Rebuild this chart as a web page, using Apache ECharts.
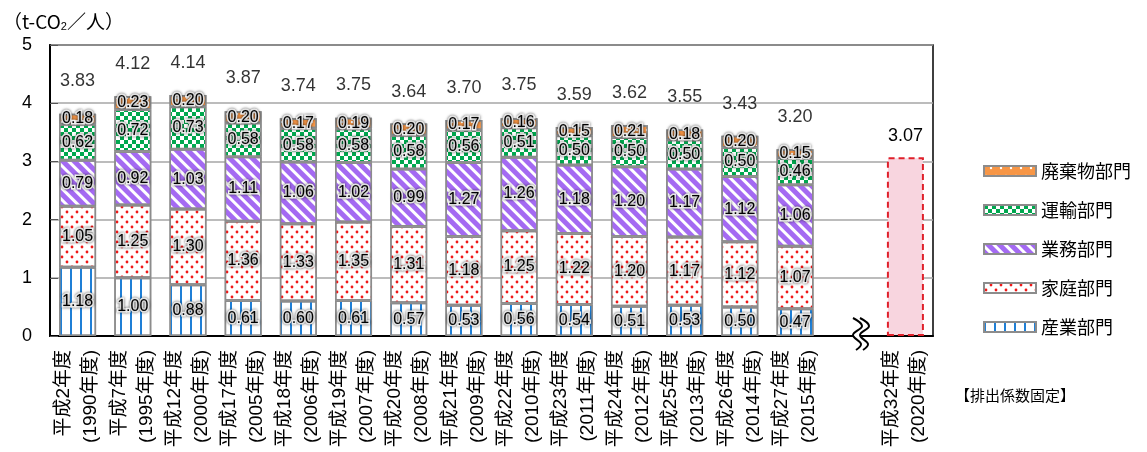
<!DOCTYPE html>
<html>
<head>
<meta charset="utf-8">
<script src="https://cdn.jsdelivr.net/npm/echarts@6/dist/echarts.min.js"></script>
<style>
html,body{margin:0;padding:0;background:#fff;}
#chart{width:1147px;height:452px;}
</style>
</head>
<body>
<div id="chart"></div>
<script>
// ---- data ----
const eraLabels = ['平成2年度','平成7年度','平成12年度','平成17年度','平成18年度','平成19年度','平成20年度','平成21年度','平成22年度','平成23年度','平成24年度','平成25年度','平成26年度','平成27年度','','平成32年度'];
const yearLabels = ['(1990年度)','(1995年度)','(2000年度)','(2005年度)','(2006年度)','(2007年度)','(2008年度)','(2009年度)','(2010年度)','(2011年度)','(2012年度)','(2013年度)','(2014年度)','(2015年度)','','(2020年度)'];
const industry  = [1.18,1.00,0.88,0.61,0.60,0.61,0.57,0.53,0.56,0.54,0.51,0.53,0.50,0.47];
const household = [1.05,1.25,1.30,1.36,1.33,1.35,1.31,1.18,1.25,1.22,1.20,1.17,1.12,1.07];
const business  = [0.79,0.92,1.03,1.11,1.06,1.02,0.99,1.27,1.26,1.18,1.20,1.17,1.12,1.06];
const transport = [0.62,0.72,0.73,0.58,0.58,0.58,0.58,0.56,0.51,0.50,0.50,0.50,0.50,0.46];
const waste     = [0.18,0.23,0.20,0.20,0.17,0.19,0.20,0.17,0.16,0.15,0.21,0.18,0.20,0.15];
const totals    = [3.83,4.12,4.14,3.87,3.74,3.75,3.64,3.70,3.75,3.59,3.62,3.55,3.43,3.20];
const target2020 = 3.07;
const seriesNames = ['産業部門','家庭部門','業務部門','運輸部門','廃棄物部門'];
const yTicks = [0,1,2,3,4,5];

// ---- helpers ----
const nCat = eraLabels.length;
function pad(arr){ const out = arr.slice(); while(out.length < nCat) out.push('-'); return out; }
const FONT = '"Liberation Sans","Noto Sans CJK JP",sans-serif';
const CJK = '"Noto Sans CJK JP",sans-serif';
const segLabel = {
  show:true, position:'inside', color:'#000', fontSize:16, fontFamily:FONT,
  textBorderColor:'#fff', textBorderWidth:3,
  textShadowColor:'rgba(0,0,0,0.6)', textShadowBlur:3,
  formatter: p => Number(p.value).toFixed(2)
};
const BORDER = '#8c8c8c';
function barSeries(name, data, color, decal){
  return {
    name, type:'bar', stack:'all', barWidth:37, data:pad(data),
    itemStyle:{ color, borderColor:BORDER, borderWidth:1.5, decal },
    label: segLabel, emphasis:{disabled:true}
  };
}
const series = [
  barSeries(seriesNames[0], industry, '#ffffff',
    {symbol:'rect', symbolSize:1, color:'#1f7fd6', dashArrayX:[2,8], dashArrayY:[10,0]}),
  barSeries(seriesNames[1], household, '#ffffff',
    {symbol:'circle', symbolSize:0.7, color:'#f01818', dashArrayX:[[4,6],[0,5,4,1]], dashArrayY:[4,1]}),
  barSeries(seriesNames[2], business, '#ffffff',
    {symbol:'rect', symbolSize:1, color:'#a46af2', dashArrayX:[4.5,3], dashArrayY:[10,0], rotation:-Math.PI/4}),
  barSeries(seriesNames[3], transport, '#00a84f',
    {symbol:'rect', symbolSize:1, color:'#ffffff', dashArrayX:[[4,4],[0,4,4,0]], dashArrayY:[4,0]}),
  barSeries(seriesNames[4], waste, '#f79646',
    {symbol:'circle', symbolSize:0.6, color:'#ffffff', dashArrayX:[[4,6],[0,5,4,1]], dashArrayY:[4,4]}),
  {
    name:'2020', type:'bar', stack:'all', barWidth:37,
    data: eraLabels.map((c,i)=> i===nCat-1 ? target2020 : '-'),
    itemStyle:{ color:'#f8d5df', borderColor:'#e0202a', borderWidth:2, borderType:[6,4] },
    label:{ show:true, position:'top', distance:12, color:'#000', fontSize:18, fontFamily:FONT },
    emphasis:{disabled:true}
  },
  {
    name:'total', type:'scatter', symbolSize:1, itemStyle:{color:'rgba(0,0,0,0)'},
    data: pad(totals),
    label:{ show:true, position:'top', distance:23, color:'#000', fontSize:18, fontFamily:FONT,
      formatter: p => Number(p.value).toFixed(2) },
    emphasis:{disabled:true}, z:5
  }
];

const chart = echarts.init(document.getElementById('chart'), null, {renderer:'canvas'});
chart.setOption({
  animation:false,
  backgroundColor:'#fff',
  title:{
    text:'（t-CO{sub|2}／人）', left:-2, top:6,
    textStyle:{ fontSize:19, fontWeight:'normal', color:'#000', fontFamily:CJK,
      rich:{ sub:{ fontSize:11, verticalAlign:'bottom', padding:[10,0,0,0], fontFamily:FONT } } }
  },
  legend:{
    orient:'vertical', left:978, top:157, itemWidth:52, itemHeight:10, itemGap:21,
    icon:'rect', data:['廃棄物部門','運輸部門','業務部門','家庭部門','産業部門'],
    textStyle:{ fontSize:18, color:'#000', fontFamily:CJK, lineHeight:18 }
  },
  grid:{ left:50, right:214, top:45, bottom:116, show:true, borderColor:'#000', borderWidth:1.5, containLabel:false },
  xAxis:{
    type:'category', data:eraLabels,
    axisLine:{ lineStyle:{ color:'#000', width:2 } },
    axisTick:{ show:false },
    axisLabel:{ interval:0, rotate:90, margin:14, fontSize:19, lineHeight:27, color:'#000', fontFamily:FONT,
      formatter:(v,i)=> v ? v + '\n' + yearLabels[i] : '' }
  },
  yAxis:{
    type:'value', min:yTicks[0], max:yTicks[yTicks.length-1], interval:1,
    axisLine:{ show:true, lineStyle:{ color:'#000', width:2 } },
    axisTick:{ show:true, inside:true, length:8, lineStyle:{ color:'#555' } },
    axisLabel:{ fontSize:18, color:'#000', margin:18, fontFamily:FONT },
    splitLine:{ lineStyle:{ color:'#a6a6a6', width:1.5 } }
  },
  series,
  graphic:[
    { type:'polygon', z:100, shape:{ points:[[853,318],[862,326],[853,335],[861,344],[856,350],[863,350],[868,344],[860,335],[869,326],[860,318]] },
      style:{ fill:'#fff' } },
    { type:'polyline', z:101, shape:{ points:[[853,318],[862,326],[853,335],[861,344],[856,350]], smooth:0.4 },
      style:{ stroke:'#000', lineWidth:2, fill:null } },
    { type:'polyline', z:101, shape:{ points:[[860,318],[869,326],[860,335],[868,344],[863,350]], smooth:0.4 },
      style:{ stroke:'#000', lineWidth:2, fill:null } },
    { type:'text', left:955, top:388, z:100,
      style:{ text:'【排出係数固定】', fill:'#000', font:'15px "Noto Sans CJK JP"' } }
  ]
});
</script>
</body>
</html>
